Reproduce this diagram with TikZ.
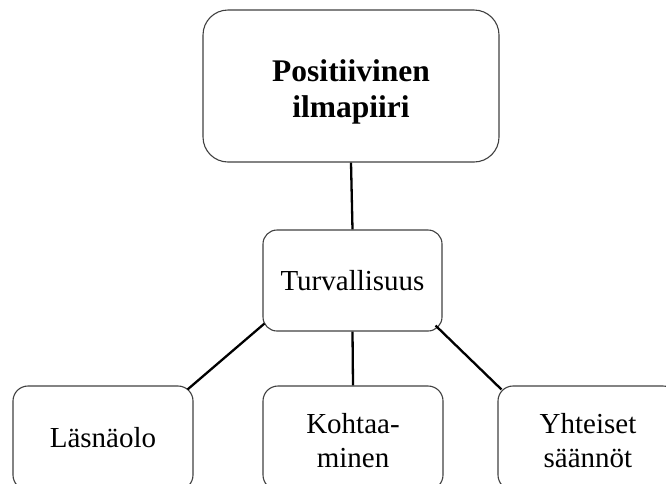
\documentclass[tikz,border=0pt]{standalone}
\usepackage{fontspec}
\setmainfont{Liberation Serif}
\begin{document}
\begin{tikzpicture}[x=1pt,y=-1pt,
  box/.style={draw=black!75, line width=1.1pt, align=center, inner sep=0pt,
    font=\fontsize{29}{34}\selectfont},
  conn/.style={line width=2.3pt, draw=black}]
\useasboundingbox (0,0) rectangle (666,483);
\clip (0,0) rectangle (666,483);
\node[box, rounded corners=25pt, minimum width=296pt, minimum height=152pt] (top) at (351,86) {};
\node[align=center, inner sep=0pt, font=\bfseries\fontsize{31.5}{36}\selectfont] (toptext) at (351,92) {Positiivinen\\ilmapiiri};
\node[box, rounded corners=14pt, minimum width=179pt, minimum height=101pt] (mid) at (352.5,280.5) {Turvallisuus};
\node[box, rounded corners=15pt, minimum width=180pt, minimum height=104pt] (l) at (103,438) {Läsnäolo};
\node[box, rounded corners=15pt, minimum width=180pt, minimum height=104pt] (c) at (353,438) {};
\node[align=center, inner sep=0pt, font=\fontsize{29}{34}\selectfont] (ctext) at (353,441) {Kohtaa-\\minen};
\node[box, rounded corners=15pt, minimum width=180pt, minimum height=104pt] (r) at (588,438) {};
\node[align=center, inner sep=0pt, font=\fontsize{29}{34}\selectfont] (rtext) at (588,441) {Yhteiset\\säännöt};
\draw[conn] (top.south) -- (mid.north);
\draw[conn] (mid.south) -- (c.north);
\draw[conn] ([shift={(2,-8)}]mid.south west) -- ([shift={(-6,4)}]l.north east);
\draw[conn] ([shift={(-7,-6)}]mid.south east) -- ([shift={(4,4)}]r.north west);
\end{tikzpicture}
\end{document}
